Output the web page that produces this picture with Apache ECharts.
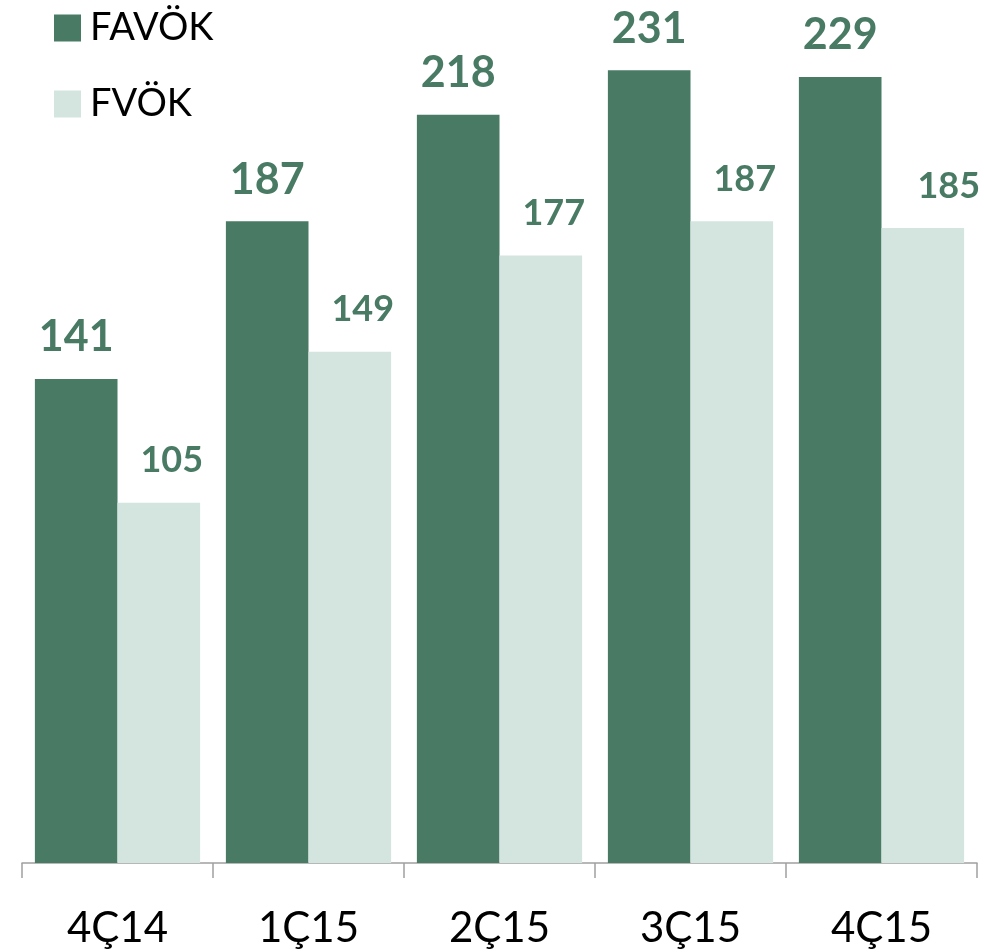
<!DOCTYPE html>
<html><head><meta charset="utf-8">
<script src="https://cdn.jsdelivr.net/npm/echarts@6/dist/echarts.min.js"></script>
<style>html,body{margin:0;padding:0;background:#fff}#c{width:984px;height:952px}</style>
</head><body><div id="c"></div>
<script>
const categories = ['4Ç14', '1Ç15', '2Ç15', '3Ç15', '4Ç15'];
const favok = [141, 187, 218, 231, 229];
const fvok = [105, 149, 177, 187, 185];
const seriesNames = ['FAVÖK', 'FVÖK'];

const DARK = '#487A64';
const LIGHT = '#D4E5DF';
const FONT = 'Lato';

// FVÖK labels sit right of their bars; the last one is pushed further right
const fvokData = fvok.map((v, i) => i === fvok.length - 1
  ? {value: v, label: {offset: [26, 0]}}
  : v);

const chart = echarts.init(document.getElementById('c'), null, {renderer: 'canvas'});
chart.setOption({
  animation: false,
  textStyle: {fontFamily: FONT},
  legend: {
    orient: 'vertical', left: 49, top: 4,
    itemWidth: 27, itemHeight: 27, itemGap: 38,
    icon: 'rect',
    textStyle: {fontSize: 38, color: '#000', fontFamily: FONT, padding: [0, 0, 0, 4]},
    data: seriesNames
  },
  grid: {left: 22, right: 7, top: 5, bottom: 89, containLabel: false},
  xAxis: {
    type: 'category', data: categories,
    axisLine: {lineStyle: {color: '#A0A0A0', width: 1.5}},
    axisTick: {show: true, length: 15, lineStyle: {color: '#A0A0A0', width: 1.5}},
    axisLabel: {fontSize: 42, color: '#000', margin: 44, fontFamily: FONT}
  },
  yAxis: {type: 'value', min: 0, max: 250, show: false, splitLine: {show: false}},
  series: [
    {
      name: seriesNames[0], type: 'bar', data: favok,
      barGap: '0%', barCategoryGap: '13.5%',
      itemStyle: {color: DARK},
      label: {show: true, position: 'top', distance: 20, color: DARK, fontSize: 43, fontWeight: 'bold', fontFamily: FONT}
    },
    {
      name: seriesNames[1], type: 'bar', data: fvokData,
      barGap: '0%', barCategoryGap: '13.5%',
      itemStyle: {color: LIGHT},
      label: {show: true, position: 'top', distance: 24, offset: [13, 0], color: DARK, fontSize: 36, fontWeight: 'bold', fontFamily: FONT}
    }
  ]
});
</script></body></html>
